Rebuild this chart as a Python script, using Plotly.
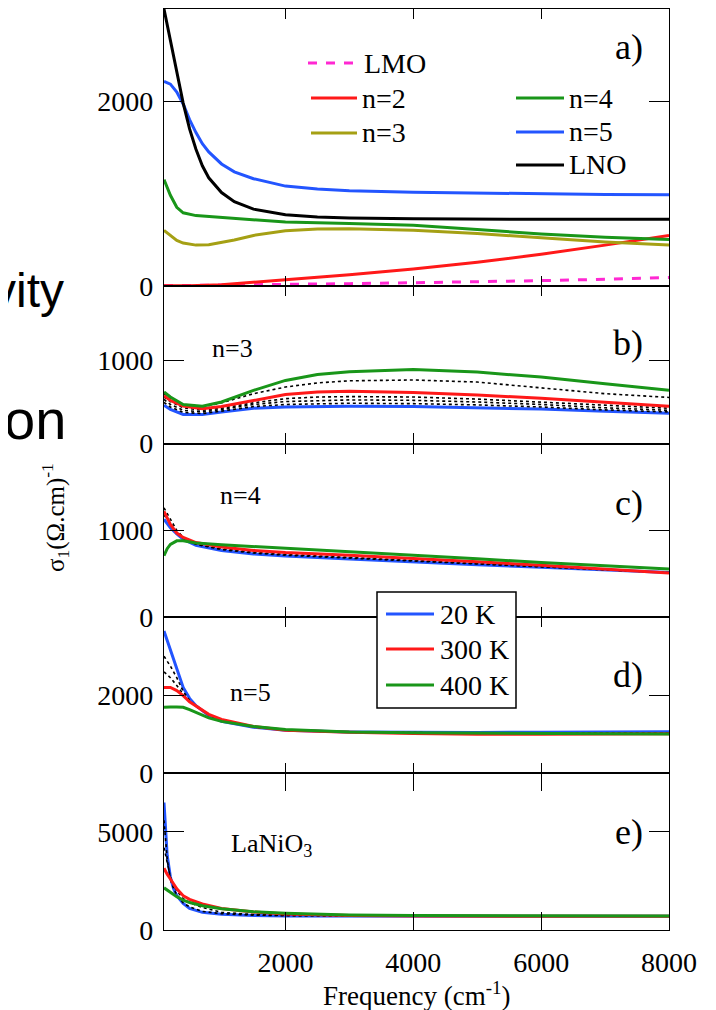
import plotly.graph_objects as go
from plotly.subplots import make_subplots

# ---------------- data ----------------
# panel a) room-temperature spectra
a_lmo_x = [100, 1000, 2000, 3000, 4000, 5000, 6000, 7000, 8000]
a_lmo_y = [0, 5, 15, 22, 32, 42, 55, 70, 88]
a_n2_x = [100, 500, 1000, 1500, 2000, 3000, 4000, 5000, 6000, 7000, 8000]
a_n2_y = [0, 0, 10, 35, 65, 120, 180, 255, 340, 440, 545]
a_n3_x = [100, 200, 300, 400, 600, 800, 1000, 1200, 1500, 2000, 2500, 3000, 4000, 5000, 6000, 7000, 8000]
a_n3_y = [600, 540, 490, 462, 440, 445, 470, 495, 545, 595, 615, 618, 600, 565, 520, 475, 440]
a_n4_x = [100, 150, 200, 300, 400, 600, 1000, 1500, 2000, 3000, 4000, 5000, 6000, 7000, 8000]
a_n4_y = [1150, 1060, 980, 850, 790, 760, 740, 720, 690, 675, 655, 610, 560, 525, 500]
a_n5_x = [100, 200, 300, 400, 500, 600, 700, 800, 1000, 1200, 1500, 2000, 2500, 3000, 4000, 5000, 6000, 7000, 8000]
a_n5_y = [2215, 2185, 2100, 1970, 1800, 1660, 1540, 1450, 1320, 1235, 1160, 1080, 1048, 1030, 1012, 1002, 995, 990, 985]
a_lno_x = [100, 200, 300, 400, 500, 600, 700, 800, 1000, 1200, 1500, 2000, 2500, 3000, 4000, 5000, 6000, 7000, 8000]
a_lno_y = [3000, 2650, 2300, 1980, 1700, 1480, 1300, 1170, 1010, 910, 830, 770, 745, 735, 725, 720, 720, 720, 720]

# panel b) n=3, temperature dependence
b_x = [100, 200, 400, 700, 1000, 1500, 2000, 2500, 3000, 4000, 5000, 6000, 7000, 8000]
b_20K = [460, 410, 350, 350, 380, 425, 440, 447, 450, 445, 430, 415, 390, 365]
b_300K = [575, 520, 450, 420, 445, 520, 590, 620, 630, 615, 585, 545, 495, 450]
b_400K = [620, 560, 470, 450, 500, 640, 760, 830, 865, 890, 860, 800, 720, 640]
b_dot1 = [560, 505, 430, 400, 425, 490, 540, 560, 565, 560, 535, 500, 460, 425]
b_dot2 = [530, 470, 400, 380, 410, 470, 505, 518, 525, 520, 500, 470, 430, 400]
b_dot3 = [495, 440, 375, 360, 390, 445, 470, 480, 485, 480, 465, 440, 405, 380]
b_dot4 = [600, 540, 460, 440, 490, 600, 680, 730, 755, 765, 740, 670, 600, 555]

# panel c) n=4
c_x = [100, 150, 200, 300, 400, 600, 1000, 1500, 2000, 3000, 4000, 5000, 6000, 7000, 8000]
c_20K = [1130, 1080, 1030, 960, 900, 830, 770, 730, 705, 670, 635, 605, 575, 545, 515]
c_300K = [1220, 1150, 1070, 970, 920, 860, 810, 770, 745, 715, 680, 640, 600, 555, 510]
c_400K = [710, 790, 840, 880, 880, 855, 835, 815, 800, 760, 715, 675, 630, 590, 555]
c_dot1 = [1260, 1200, 1130, 1000, 920, 845, 790, 750, 725, 690, 655, 620, 585, 550, 512]
c_dot2 = [1180, 1130, 1080, 980, 910, 840, 780, 740, 715, 680, 645, 612, 580, 548, 514]

# panel d) n=5
d_x = [100, 150, 200, 300, 400, 500, 600, 800, 1000, 1500, 2000, 3000, 4000, 5000, 6000, 7000, 8000]
d_20K = [3650, 3400, 3150, 2650, 2200, 1920, 1730, 1480, 1330, 1180, 1100, 1060, 1050, 1045, 1050, 1055, 1065]
d_300K = [2200, 2200, 2200, 2120, 1990, 1830, 1720, 1510, 1380, 1200, 1100, 1050, 1020, 1000, 1000, 1005, 1010]
d_400K = [1690, 1700, 1700, 1700, 1690, 1630, 1560, 1420, 1330, 1200, 1120, 1060, 1040, 1025, 1015, 1010, 1005]
d_dot1 = [3000, 2880, 2750, 2450, 2100, 1870, 1720, 1500, 1350, 1190, 1100, 1055, 1035, 1028, 1025, 1028, 1030]
d_dot2 = [2600, 2530, 2450, 2250, 2030, 1850, 1720, 1500, 1350, 1190, 1100, 1050, 1030, 1025, 1020, 1020, 1020]

# panel e) LaNiO3
e_x = [100, 120, 150, 200, 250, 300, 400, 500, 700, 1000, 1500, 2000, 3000, 4000, 6000, 8000]
e_20K = [6500, 5200, 3800, 2700, 2100, 1750, 1350, 1100, 900, 800, 740, 720, 710, 705, 705, 705]
e_300K = [3150, 3020, 2850, 2600, 2350, 2100, 1750, 1560, 1330, 1100, 920, 810, 740, 710, 700, 700]
e_400K = [2150, 2100, 2040, 1930, 1810, 1700, 1520, 1400, 1240, 1080, 930, 860, 770, 740, 720, 715]
e_dot1 = [5600, 4700, 3600, 2600, 2100, 1800, 1380, 1180, 950, 830, 760, 730, 715, 710, 705, 705]
e_dot2 = [4200, 3900, 3300, 2700, 2300, 2000, 1600, 1400, 1150, 900, 790, 750, 725, 715, 705, 705]

y_ranges = [3000, 1900, 2000, 4000, 8000]
y_ticks = [[0, 2000], [0, 1000], [0, 1000], [0, 2000], [0, 5000]]
x_ticks = [2000, 4000, 6000, 8000]
panel_letters = ["a)", "b)", "c)", "d)", "e)"]
temp_labels = ["20 K", "300 K", "400 K"]
a_labels = ["LMO", "n=2", "n=3", "n=4", "n=5", "LNO"]

# ---------------- style ----------------
BLUE = "rgb(35,85,255)"
RED = "rgb(255,25,25)"
GREEN = "rgb(25,150,25)"
OLIVE = "rgb(165,160,20)"
MAG = "rgb(255,40,210)"
SERIF = "Liberation Serif, Times New Roman, serif"
SANS = "Liberation Sans, Arial, sans-serif"
OFF = 8                      # page body margin
W, H = 716 - OFF, 1010 - OFF
L, R, T, B = 156, 47, 1, 80
PW, PH = W - L - R, H - T - B


def px(x):  # page pixel -> paper
    return (x - OFF - L) / PW


def py(y):  # page pixel -> paper
    return (H - B - (y - OFF)) / PH


fig = make_subplots(rows=5, cols=1, shared_xaxes=True, vertical_spacing=0,
                    row_heights=[277, 158, 174, 156, 157])

LW = 3


def line(x, y, color, row, dash="solid", width=LW):
    fig.add_trace(go.Scatter(x=x, y=y, mode="lines", showlegend=False,
                             line=dict(color=color, width=width, dash=dash)),
                  row=row, col=1)


# panel a
line(a_lmo_x, a_lmo_y, MAG, 1, dash="dash")
line(a_n2_x, a_n2_y, RED, 1)
line(a_n3_x, a_n3_y, OLIVE, 1)
line(a_n4_x, a_n4_y, GREEN, 1)
line(a_n5_x, a_n5_y, BLUE, 1)
line(a_lno_x, a_lno_y, "black", 1)

# panels b-e
for row, xs, s20, s300, s400, dots in [
    (2, b_x, b_20K, b_300K, b_400K, [b_dot1, b_dot2, b_dot3, b_dot4]),
    (3, c_x, c_20K, c_300K, c_400K, [c_dot1, c_dot2]),
    (4, d_x, d_20K, d_300K, d_400K, [d_dot1, d_dot2]),
    (5, e_x, e_20K, e_300K, e_400K, [e_dot1, e_dot2]),
]:
    line(xs, s20, BLUE, row)
    for dv in dots:
        line(xs, dv, "black", row, dash="dot", width=1.6)
    line(xs, s300, RED, row)
    line(xs, s400, GREEN, row)

tickfont = dict(family=SERIF, size=28, color="black")
for r in range(1, 6):
    fig.update_xaxes(row=r, col=1, range=[100, 8000], tickvals=x_ticks,
                     ticks="inside", ticklen=18 if r == 5 else 10, tickwidth=1.3,
                     tickcolor="black", showline=True, linecolor="black", linewidth=1.2,
                     mirror="ticks", showgrid=False, zeroline=False,
                     tickfont=tickfont, showticklabels=(r == 5),
                     ticklabelstandoff=7)
    fig.update_yaxes(row=r, col=1, range=[0, y_ranges[r - 1]], tickvals=y_ticks[r - 1],
                     ticks="inside", ticklen=20, tickwidth=1.3, tickcolor="black",
                     showline=True, linecolor="black", linewidth=1.2, mirror="ticks",
                     showgrid=False, zeroline=False, tickfont=tickfont,
                     ticklabelstandoff=4)

ann = []
# panel letters
for lab, yc in zip(panel_letters, [47, 343, 503, 675, 832]):
    ann.append(dict(text=lab, x=px(645), y=py(yc), xanchor="right", yanchor="middle",
                    font=dict(family=SERIF, size=36, color="black")))
# inner labels
for lab, xc, yc in [("n=3", 232, 348), ("n=4", 240, 495), ("n=5", 250, 692),
                    ("LaNiO<sub>3</sub>", 271, 845)]:
    ann.append(dict(text=lab, x=px(xc), y=py(yc), xanchor="center", yanchor="middle",
                    font=dict(family=SERIF, size=26, color="black")))

shapes = []
# legend of panel a
leg_a = [(a_labels[0], MAG, "dash", 308, 359, 63),
         (a_labels[1], RED, "solid", 311, 357, 98),
         (a_labels[2], OLIVE, "solid", 311, 357, 133),
         (a_labels[3], GREEN, "solid", 516, 564, 98),
         (a_labels[4], BLUE, "solid", 516, 564, 132),
         (a_labels[5], "black", "solid", 516, 564, 165)]
for lab, col, dash, x0, x1, yc in leg_a:
    shapes.append(dict(type="line", xref="paper", yref="paper", x0=px(x0), x1=px(x1),
                       y0=py(yc), y1=py(yc), line=dict(color=col, width=LW, dash=dash)))
    ann.append(dict(text=lab, x=px(x1 + 3), y=py(yc), xanchor="left", yanchor="middle",
                    font=dict(family=SERIF, size=28, color="black")))

# temperature legend box
shapes.append(dict(type="rect", xref="paper", yref="paper", x0=px(377), x1=px(516),
                   y0=py(708), y1=py(592), line=dict(color="black", width=1.5),
                   fillcolor="white", layer="above"))
for lab, col, yc in zip(temp_labels, [BLUE, RED, GREEN], [614, 649, 685]):
    shapes.append(dict(type="line", xref="paper", yref="paper", x0=px(386), x1=px(434),
                       y0=py(yc), y1=py(yc), line=dict(color=col, width=LW)))
    ann.append(dict(text=lab, x=px(438), y=py(yc), xanchor="left", yanchor="middle",
                    font=dict(family=SERIF, size=28, color="black")))

# axis titles
ann.append(dict(text="σ<sub>1</sub>(Ω.cm)<sup>-1</sup>", x=px(55), y=py(518),
                xanchor="center", yanchor="middle", textangle=-90,
                font=dict(family=SERIF, size=25, color="black")))
ann.append(dict(text="Frequency (cm<sup>-1</sup>)", x=0.5, y=py(994),
                xanchor="center", yanchor="middle",
                font=dict(family=SERIF, size=27, color="black")))
# cropped slide text at the left
ann.append(dict(text="vity", x=px(66), y=py(290), xanchor="right", yanchor="middle",
                font=dict(family=SANS, size=48, color="black")))
ann.append(dict(text="on", x=px(68), y=py(419), xanchor="right", yanchor="middle",
                font=dict(family=SANS, size=56, color="black")))

for a in ann:
    a.update(xref="paper", yref="paper", showarrow=False)

fig.update_layout(width=W, height=H, margin=dict(l=L, r=R, t=T, b=B),
                  plot_bgcolor="white", paper_bgcolor="white",
                  annotations=ann, shapes=shapes, showlegend=False)

fig.write_html("out.html")
